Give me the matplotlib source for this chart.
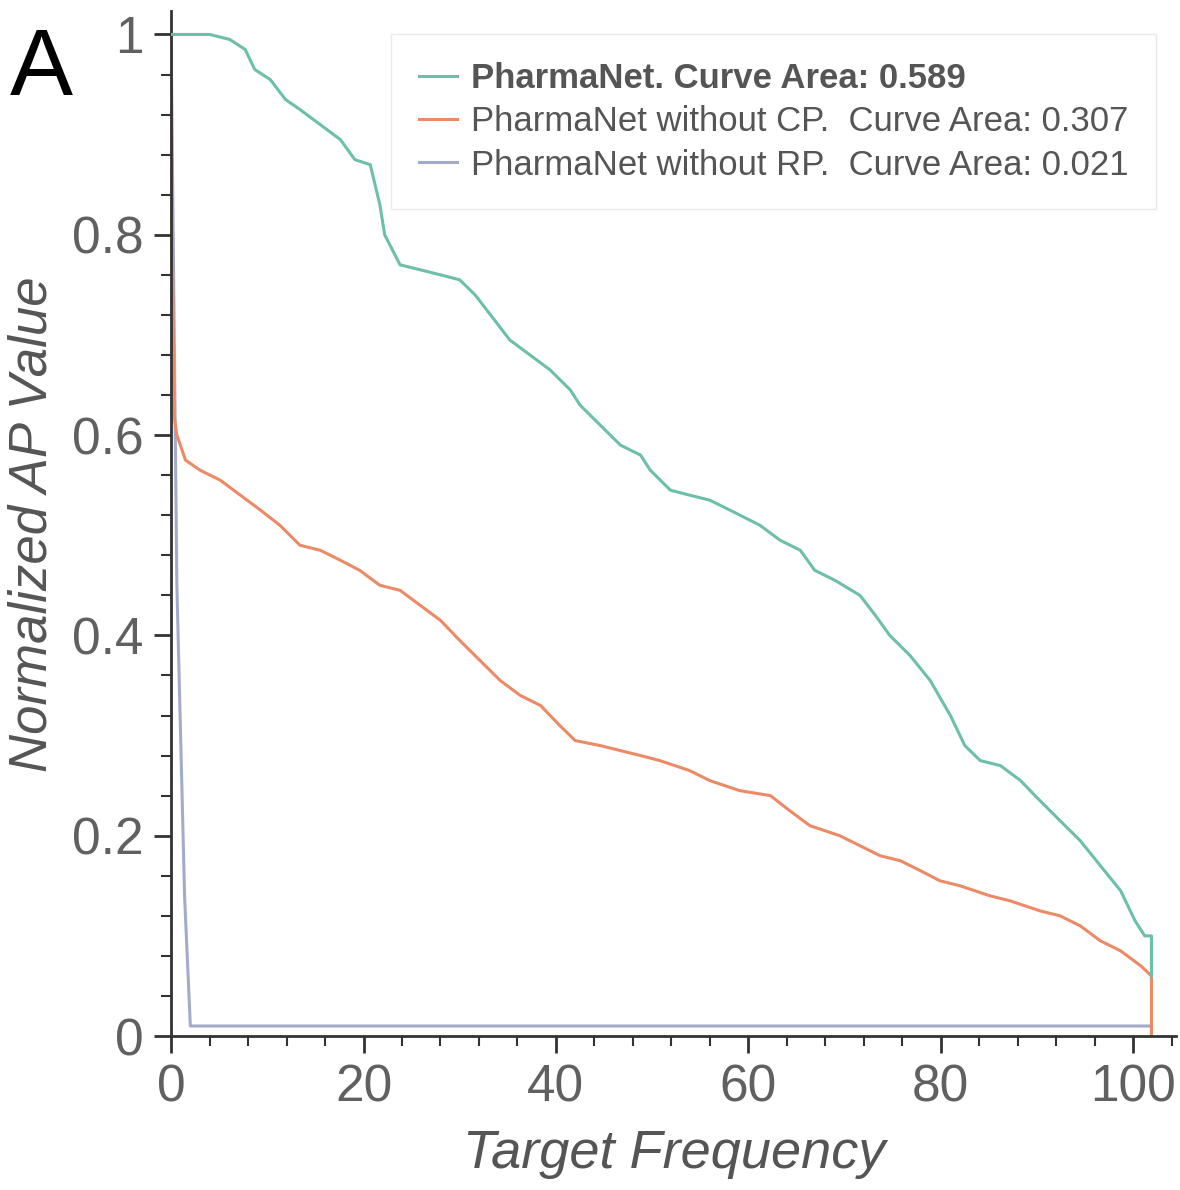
import matplotlib.pyplot as plt
from matplotlib.ticker import MultipleLocator

# PharmaNet curve
full_x = [0, 4, 6.1, 7.7, 8.7, 10.3, 11.9, 13.4, 15.5, 17.6, 19.1, 20.7, 21.7, 22.2,
          23.8, 25.9, 28.0, 30.0, 31.6, 33.2, 35.2, 37.3, 39.4, 41.5, 42.5, 44.6,
          46.7, 48.8, 49.8, 51.9, 53.9, 56.0, 58.1, 61.2, 63.3, 65.4, 66.9, 69.0,
          71.6, 73.2, 74.7, 76.8, 78.9, 81.0, 82.5, 84.1, 86.2, 88.3, 89.8, 92.4,
          94.5, 96.6, 98.7, 100.2, 101.2, 101.9, 101.9]
full_y = [1.0, 1.0, 0.995, 0.985, 0.965, 0.955, 0.935, 0.925, 0.91, 0.895, 0.875,
          0.87, 0.83, 0.80, 0.77, 0.765, 0.76, 0.755, 0.74, 0.72, 0.695, 0.68,
          0.665, 0.645, 0.63, 0.61, 0.59, 0.58, 0.565, 0.545, 0.54, 0.535, 0.525,
          0.51, 0.495, 0.485, 0.465, 0.455, 0.44, 0.42, 0.40, 0.38, 0.355, 0.32,
          0.29, 0.275, 0.27, 0.255, 0.24, 0.215, 0.195, 0.17, 0.145, 0.115, 0.10,
          0.10, 0.06]

# without CP
cp_x = [0, 0.3, 0.6, 1.5, 3.0, 5.1, 7.2, 9.3, 11.3, 13.4, 15.5, 17.6, 19.6, 21.7,
        23.8, 25.9, 28.0, 30.0, 32.1, 34.2, 36.3, 38.4, 40.4, 42.0, 44.6, 46.7,
        48.8, 50.8, 53.9, 56.0, 59.1, 62.3, 64.3, 66.4, 69.5, 71.6, 73.7, 75.8,
        77.9, 79.9, 82.0, 85.1, 87.2, 90.3, 92.4, 94.5, 96.6, 98.7, 100.8, 101.9,
        101.9]
cp_y = [0.93, 0.62, 0.60, 0.575, 0.565, 0.555, 0.54, 0.525, 0.51, 0.49, 0.485,
        0.475, 0.465, 0.45, 0.445, 0.43, 0.415, 0.395, 0.375, 0.355, 0.34, 0.33,
        0.31, 0.295, 0.29, 0.285, 0.28, 0.275, 0.265, 0.255, 0.245, 0.24, 0.225,
        0.21, 0.20, 0.19, 0.18, 0.175, 0.165, 0.155, 0.15, 0.14, 0.135, 0.125,
        0.12, 0.11, 0.095, 0.085, 0.07, 0.06, 0.0]

# without RP
rp_x = [0, 0.6, 1.4, 2.0, 101.9, 101.9]
rp_y = [1.0, 0.45, 0.14, 0.01, 0.01, 0.0]

labels = ["PharmaNet. Curve Area: 0.589",
          "PharmaNet without CP.  Curve Area: 0.307",
          "PharmaNet without RP.  Curve Area: 0.021"]

plt.rcParams['font.family'] = ['Liberation Sans', 'DejaVu Sans']

fig = plt.figure(figsize=(11.8, 11.9), dpi=100)
ax = fig.add_axes([0.145, 0.1294, 0.852, 0.861])

ax.plot(full_x, full_y, color='#6cbfa8', lw=2.2, label=labels[0], zorder=3)
ax.plot(cp_x, cp_y, color='#ec8a66', lw=2.2, label=labels[1], zorder=2)
ax.plot(rp_x, rp_y, color='#a3abcb', lw=2.2, label=labels[2], zorder=1)

ax.set_xlim(0, 104.5)
ax.set_ylim(0, 1.023)
ax.xaxis.set_major_locator(MultipleLocator(20))
ax.xaxis.set_minor_locator(MultipleLocator(4))
ax.yaxis.set_major_locator(MultipleLocator(0.2))
ax.yaxis.set_minor_locator(MultipleLocator(0.04))
ax.set_yticks([0, 0.2, 0.4, 0.6, 0.8, 1.0])
ax.set_yticklabels(['0', '0.2', '0.4', '0.6', '0.8', '1'])

for s in ['top', 'right']:
    ax.spines[s].set_visible(False)
for s in ['left', 'bottom']:
    ax.spines[s].set_linewidth(2)
    ax.spines[s].set_color('#333333')

ax.tick_params(which='major', length=12, width=2, color='#333333',
               labelsize=37, labelcolor='#606060', pad=8)
ax.tick_params(which='minor', length=7, width=1.5, color='#333333')

ax.set_xlabel("Target Frequency", fontsize=39, style='italic', color='#555555', labelpad=12)
ax.set_ylabel("Normalized AP Value", fontsize=38, style='italic', color='#555555', labelpad=10)

leg = ax.legend(loc='upper right', bbox_to_anchor=(0.997, 0.995), fontsize=25,
                frameon=True, fancybox=False, handlelength=1.1, handletextpad=0.4,
                labelspacing=0.3, borderpad=0.8, edgecolor='#e4e4e4')
for i, t in enumerate(leg.get_texts()):
    t.set_color('#555555')
    if i == 0:
        t.set_fontweight('bold')

fig.text(0.008, 0.978, "A", fontsize=68, va='top', ha='left', color='black')

fig.savefig("out.png", dpi=100)
